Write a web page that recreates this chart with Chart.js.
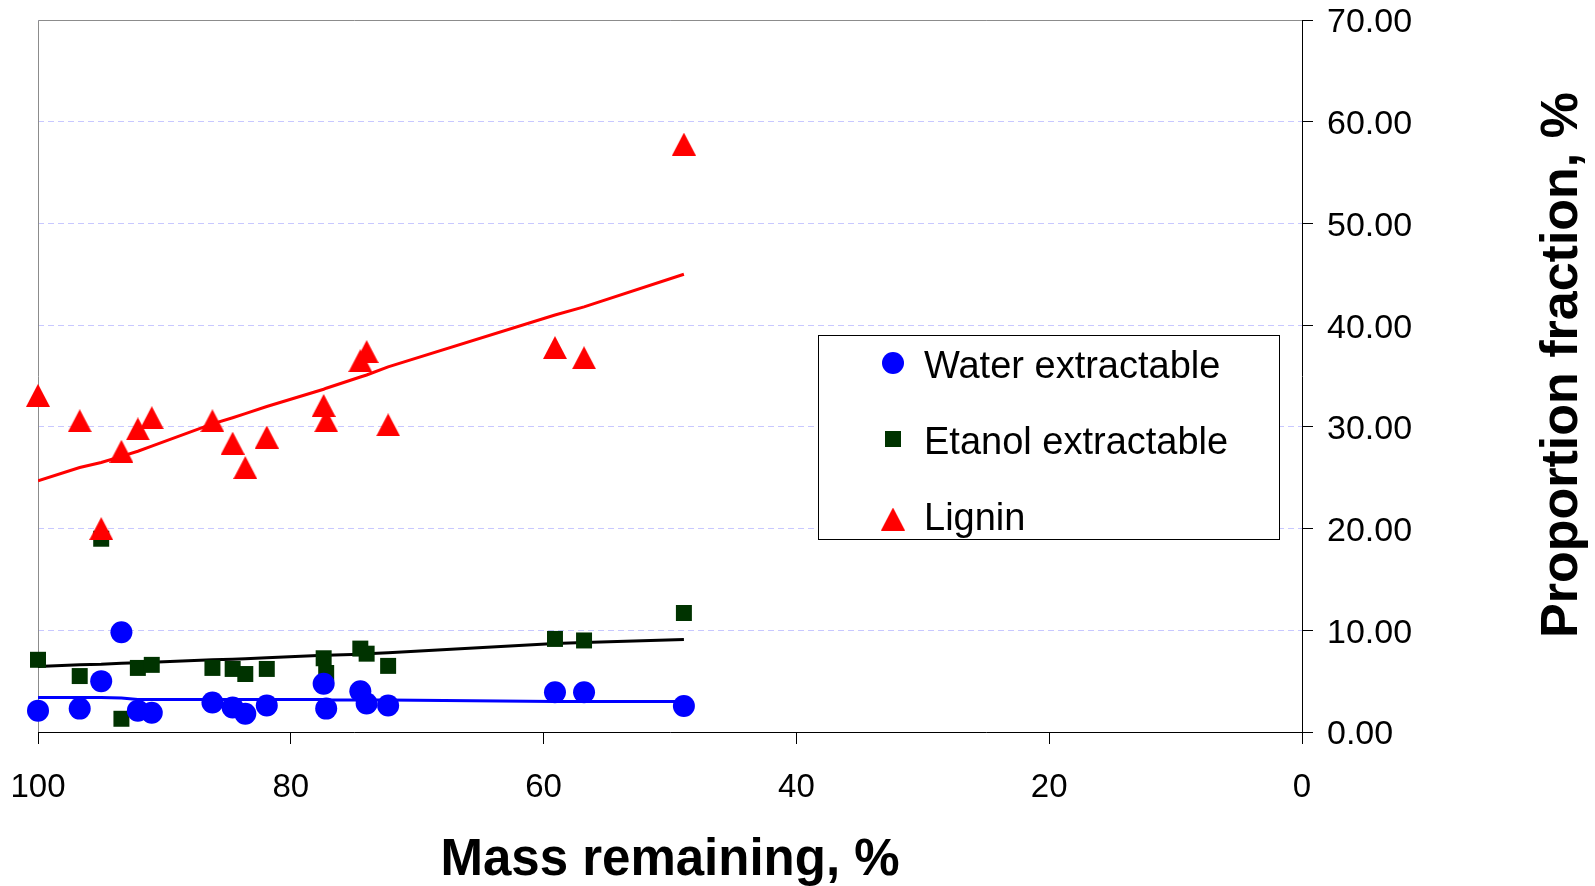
<!DOCTYPE html>
<html><head><meta charset="utf-8">
<script src="https://cdn.jsdelivr.net/npm/chart.js@4/dist/chart.umd.min.js"></script>
<style>html,body{margin:0;padding:0;background:#fff;} canvas{display:block;}</style>
</head><body>
<canvas id="c" width="1595" height="886"></canvas>
<script>
// ---- data ----
const massRemaining     = [100, 96.7, 95.0, 93.4, 92.1, 91.0, 86.2, 84.6, 83.6, 81.9, 77.4, 77.2, 74.5, 74.0, 72.3, 59.1, 56.8, 48.9];
const waterExtractable  = [2.1, 2.3, 5.0, 9.8, 2.1, 1.9, 2.9, 2.4, 1.8, 2.6, 4.75, 2.3, 4.0, 2.8, 2.6, 3.9, 3.9, 2.55];
const etanolExtractable = [7.1, 5.5, 19.0, 1.3, 6.3, 6.6, 6.3, 6.2, 5.7, 6.2, 7.25, 5.8, 8.2, 7.7, 6.5, 9.15, 9.0, 11.7];
const ligninValues      = [33.1, 30.6, 20.0, 27.6, 29.8, 30.9, 30.6, 28.4, 26.0, 29.0, 32.1, 30.6, 36.5, 37.4, 30.2, 37.8, 36.8, 57.8];
const waterTrend  = [3.4, 3.4, 3.4, 3.35, 3.2, 3.2, 3.2, 3.2, 3.2, 3.2, 3.2, 3.15, 3.15, 3.15, 3.15, 3.0, 3.0, 3.0];
const etanolTrend = [6.45, 6.6, 6.65, 6.75, 6.8, 6.85, 7.1, 7.15, 7.2, 7.3, 7.55, 7.55, 7.65, 7.7, 7.8, 8.7, 8.8, 9.1];
const ligninTrend = [24.7, 26.0, 26.5, 27.1, 27.6, 28.1, 30.3, 30.9, 31.3, 32.0, 33.7, 33.8, 34.9, 35.1, 35.9, 41.0, 41.8, 45.0];
const seriesNames = ['Water extractable', 'Etanol extractable', 'Lignin'];
const xTicks = [100, 80, 60, 40, 20, 0];
const yTicks = [0, 10, 20, 30, 40, 50, 60, 70];
const xTitle = 'Mass remaining, %';
const yTitle = 'Proportion fraction, %';

const FONT = '"Liberation Sans", Arial, Helvetica, sans-serif';
const pts = (ys) => massRemaining.map((m, i) => ({x: m, y: ys[i]}));

// triangle marker centred on its bounding box (as in the source chart)
function triangleMarker(w, h, color) {
  const c = document.createElement('canvas');
  c.width = w; c.height = h;
  const g = c.getContext('2d');
  g.fillStyle = color;
  g.beginPath();
  g.moveTo(w / 2, 0);
  g.lineTo(w, h);
  g.lineTo(0, h);
  g.closePath();
  g.fill();
  return c;
}
const redTriangle = triangleMarker(24, 23, '#ff0000');

const frame = {
  id: 'frame',
  beforeDatasetsDraw(chart) {
    const {ctx, chartArea: a} = chart;
    ctx.save();
    ctx.strokeStyle = '#8c8c8c';
    ctx.lineWidth = 1;
    ctx.beginPath();
    ctx.moveTo(Math.round(a.left) + 0.5, a.bottom);
    ctx.lineTo(Math.round(a.left) + 0.5, Math.round(a.top) + 0.5);
    ctx.lineTo(a.right, Math.round(a.top) + 0.5);
    ctx.stroke();
    ctx.restore();
  },
  afterDraw(chart) {
    const ctx = chart.ctx;
    const a = chart.chartArea;
    // y axis title (reads bottom to top)
    ctx.save();
    ctx.fillStyle = '#000';
    ctx.font = 'bold 52px ' + FONT;
    ctx.translate(1577, (a.top + a.bottom) / 2 - 11);
    ctx.rotate(-Math.PI / 2);
    ctx.textAlign = 'center';
    ctx.textBaseline = 'alphabetic';
    ctx.fillText(yTitle, 0, 0);
    ctx.restore();

    // legend box
    ctx.save();
    ctx.fillStyle = '#fff';
    ctx.fillRect(818.5, 335.5, 461, 204);
    ctx.strokeStyle = '#000';
    ctx.lineWidth = 1;
    ctx.strokeRect(818.5, 335.5, 461, 204);
    const rowsBase = [378, 454, 530];
    const markY = [363, 439, 519];
    ctx.font = '38px ' + FONT;
    ctx.textBaseline = 'alphabetic';
    ctx.textAlign = 'left';
    for (let i = 0; i < 3; i++) {
      const ds = chart.data.datasets[i];
      ctx.fillStyle = ds.backgroundColor;
      ctx.strokeStyle = ds.backgroundColor;
      Chart.helpers.drawPoint(ctx, {pointStyle: ds.pointStyle, radius: ds.pointRadius, rotation: 0, borderWidth: 0}, 893, markY[i]);
      ctx.fillStyle = '#000';
      ctx.fillText(ds.label, 924, rowsBase[i]);
    }
    ctx.restore();
  }
};

new Chart(document.getElementById('c'), {
  type: 'scatter',
  data: {
    datasets: [
      {label: seriesNames[0], data: pts(waterExtractable), pointStyle: 'circle', pointRadius: 11, backgroundColor: '#0000ff', borderColor: '#0000ff', borderWidth: 0, order: 1, clip: false},
      {label: seriesNames[1], data: pts(etanolExtractable), pointStyle: 'rect', pointRadius: 11.3, backgroundColor: '#003300', borderColor: '#003300', borderWidth: 0, order: 2, clip: false},
      {label: seriesNames[2], data: pts(ligninValues), pointStyle: redTriangle, pointRadius: 12, backgroundColor: '#ff0000', borderColor: '#ff0000', borderWidth: 0, order: 0, clip: false},
      {label: 'water trend', data: pts(waterTrend), showLine: true, pointRadius: 0, borderColor: '#0000ff', borderWidth: 3, order: 5},
      {label: 'etanol trend', data: pts(etanolTrend), showLine: true, pointRadius: 0, borderColor: '#000000', borderWidth: 3, order: 4},
      {label: 'lignin trend', data: pts(ligninTrend), showLine: true, pointRadius: 0, borderColor: '#ff0000', borderWidth: 3, order: 3}
    ]
  },
  options: {
    responsive: false,
    animation: false,
    devicePixelRatio: 1,
    layout: {padding: {left: 38, top: 20, right: 0, bottom: 0}},
    plugins: {legend: {display: false}, tooltip: {enabled: false}},
    scales: {
      x: {
        type: 'linear', position: 'bottom', reverse: true, min: 0, max: 100,
        afterBuildTicks: s => { s.ticks = xTicks.map(v => ({value: v})); },
        afterFit: s => { s.height = 154; s.paddingLeft = 0; s.paddingRight = 0; },
        grid: {drawOnChartArea: false, drawTicks: true, tickLength: 12, tickColor: '#000'},
        border: {display: true, color: '#000', width: 1},
        ticks: {color: '#000', font: {family: FONT, size: 33}, padding: 24, maxRotation: 0, callback: v => String(v)},
        title: {display: true, text: xTitle, color: '#000', font: {family: FONT, size: 51, weight: 'bold', lineHeight: 1.0}, padding: {top: 0, bottom: 0}}
      },
      y: {
        type: 'linear', position: 'right', min: 0, max: 70,
        afterBuildTicks: s => { s.ticks = yTicks.map(v => ({value: v})); },
        afterFit: s => { s.width = 293; s.paddingTop = 0; s.paddingBottom = 0; },
        grid: {color: '#c8c8ff', lineWidth: 1, drawTicks: true, tickLength: 11, tickColor: '#000', tickBorderDash: []},
        border: {display: true, color: '#000', width: 1, dash: [6, 4]},
        ticks: {color: '#000', font: {family: FONT, size: 34}, padding: 14, labelOffset: 3, callback: v => Number(v).toFixed(2)}
      }
    }
  },
  plugins: [frame]
});
</script>
</body></html>
